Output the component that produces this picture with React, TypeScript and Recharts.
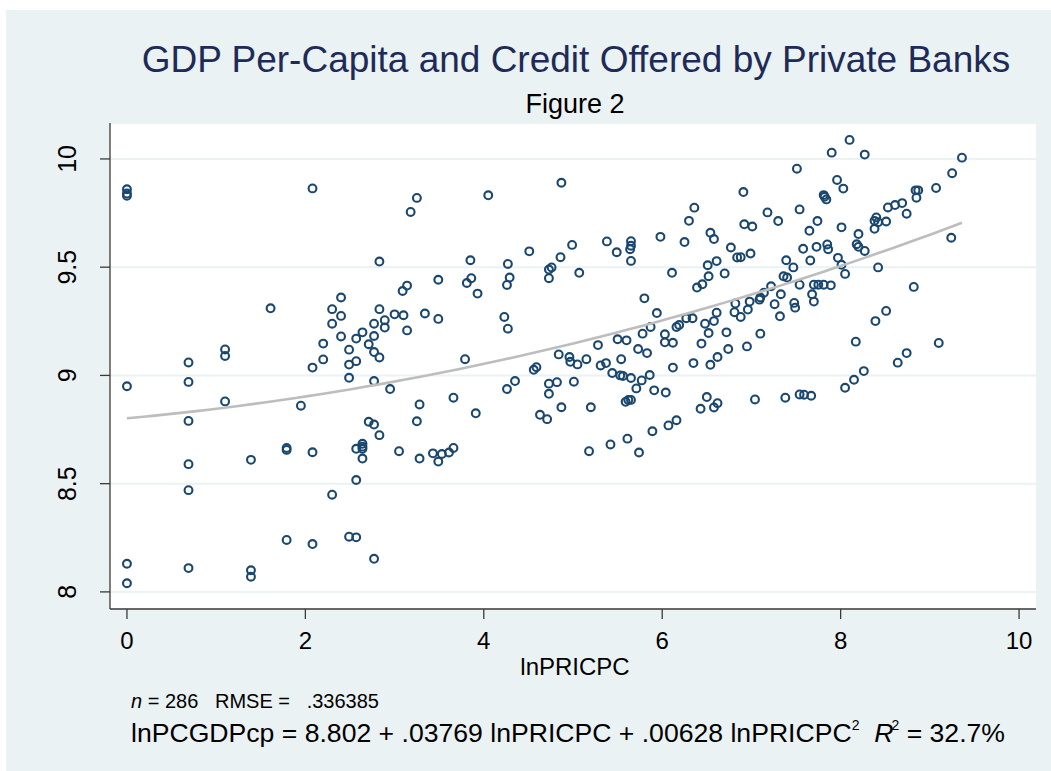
import React from "react";
import { ScatterChart, Scatter, XAxis, YAxis, CartesianGrid } from "recharts";

// ---- data (lnPRICPC, lnPCGDPcp) ----
const lowCredit: [number, number][] = [
  [0, 9.86], [0, 9.84], [0, 9.83], [0, 8.95], [0, 8.13], [0, 8.04],
  [0.69, 9.06], [0.69, 8.97], [0.69, 8.79], [0.69, 8.59], [0.69, 8.47], [0.69, 8.11],
  [1.1, 9.12], [1.1, 9.09], [1.1, 8.88],
  [1.39, 8.61], [1.39, 8.1], [1.39, 8.07],
  [1.61, 9.31],
  [1.79, 8.665], [1.79, 8.656], [1.79, 8.24],
  [1.95, 8.86],
  [2.08, 9.864], [2.08, 9.036], [2.08, 8.645], [2.08, 8.221],
  [2.2, 9.147], [2.2, 9.074],
  [2.3, 9.306], [2.3, 9.239], [2.3, 8.449],
  [2.4, 9.36], [2.4, 9.275], [2.4, 9.18],
  [2.49, 9.119], [2.49, 9.05], [2.49, 8.989], [2.49, 8.255],
  [2.57, 9.17], [2.57, 9.066], [2.57, 8.661], [2.57, 8.517], [2.57, 8.252],
  [2.64, 9.199], [2.64, 8.684], [2.64, 8.671], [2.64, 8.661], [2.64, 8.616],
  [2.71, 9.144], [2.71, 8.786],
  [2.77, 9.239], [2.77, 9.182], [2.77, 9.108], [2.77, 8.974], [2.77, 8.773], [2.77, 8.153],
  [2.83, 9.526], [2.83, 9.306], [2.83, 9.083], [2.83, 8.724],
  [2.89, 9.255], [2.89, 9.221],
  [2.95, 8.937],
];

const midCredit: [number, number][] = [
  [3.0, 9.282], [3.05, 8.65], [3.09, 9.39], [3.1, 9.278], [3.14, 9.415], [3.14, 9.208],
  [3.18, 9.755], [3.25, 9.82], [3.25, 8.788], [3.28, 8.866], [3.28, 8.616], [3.34, 9.286],
  [3.43, 8.64], [3.49, 9.442], [3.49, 9.261], [3.49, 8.602], [3.53, 8.637], [3.61, 8.644],
  [3.66, 8.897], [3.66, 8.665], [3.79, 9.075], [3.81, 9.427], [3.85, 9.532], [3.86, 9.449],
  [3.91, 8.825], [3.93, 9.378], [4.05, 9.832], [4.23, 9.27], [4.26, 9.418], [4.26, 8.937],
  [4.27, 9.515], [4.27, 9.216], [4.29, 9.452], [4.35, 8.974], [4.51, 9.573], [4.56, 9.026],
  [4.59, 9.038], [4.63, 8.818], [4.71, 8.798], [4.73, 9.489], [4.73, 9.449], [4.73, 8.962],
  [4.73, 8.915], [4.76, 9.499], [4.82, 8.969], [4.84, 9.097], [4.86, 9.546], [4.87, 9.89],
  [4.87, 8.853], [4.96, 9.085], [4.97, 9.063], [4.99, 9.603], [5.01, 8.971], [5.05, 9.051],
  [5.07, 9.474], [5.15, 9.075], [5.18, 8.65], [5.2, 8.853], [5.28, 9.14], [5.31, 9.046],
  [5.37, 9.057], [5.38, 9.619], [5.42, 8.681], [5.44, 9.011], [5.49, 9.569], [5.5, 9.167],
  [5.53, 9.0], [5.54, 9.075], [5.56, 8.997], [5.59, 8.878], [5.6, 9.162], [5.61, 8.708],
  [5.62, 8.887], [5.64, 9.583], [5.65, 9.62], [5.65, 9.599], [5.65, 9.529], [5.65, 8.988],
  [5.65, 8.887], [5.71, 8.94], [5.73, 9.122], [5.74, 8.644], [5.77, 8.977], [5.78, 9.193],
  [5.8, 9.356], [5.83, 9.103], [5.86, 9.002], [5.87, 9.224], [5.89, 8.742], [5.91, 8.931],
  [5.94, 9.288], [5.98, 9.64],
];

const highCredit: [number, number][] = [
  [6.03, 9.19], [6.03, 9.153], [6.04, 8.921], [6.07, 8.769], [6.11, 9.474], [6.12, 9.151],
  [6.12, 9.036], [6.16, 9.224], [6.16, 8.793], [6.19, 9.233], [6.25, 9.616], [6.27, 9.264],
  [6.3, 9.714], [6.34, 9.264], [6.35, 9.057], [6.36, 9.775], [6.39, 9.406], [6.43, 8.846],
  [6.44, 9.147], [6.45, 9.421], [6.48, 9.239], [6.5, 8.9], [6.51, 9.509], [6.52, 9.458],
  [6.52, 9.196], [6.54, 9.659], [6.54, 9.049], [6.58, 9.63], [6.58, 9.251], [6.58, 8.852],
  [6.61, 9.528], [6.61, 9.29], [6.62, 9.085], [6.62, 8.872], [6.7, 9.471], [6.72, 9.199],
  [6.74, 9.122], [6.77, 9.591], [6.81, 9.292], [6.82, 9.332], [6.84, 9.545], [6.88, 9.546],
  [6.88, 9.27], [6.91, 9.847], [6.92, 9.698], [6.95, 9.134], [6.96, 9.304], [6.98, 9.341],
  [6.99, 9.563], [7.01, 9.688], [7.04, 8.889], [7.09, 9.35], [7.1, 9.36], [7.1, 9.193],
  [7.14, 9.382], [7.18, 9.753], [7.22, 9.412], [7.26, 9.329], [7.3, 9.713], [7.32, 9.273],
  [7.33, 9.375], [7.36, 9.458], [7.38, 8.897], [7.39, 9.532], [7.4, 9.452], [7.47, 9.499],
  [7.48, 9.335], [7.49, 9.313], [7.51, 9.955], [7.54, 9.767], [7.54, 9.419], [7.54, 8.912],
  [7.58, 9.585], [7.59, 8.911], [7.65, 9.668], [7.66, 9.531], [7.67, 8.906], [7.68, 9.375],
  [7.7, 9.419], [7.7, 9.341], [7.73, 9.594], [7.74, 9.713], [7.75, 9.419], [7.81, 9.833],
  [7.81, 9.419], [7.82, 9.825], [7.84, 9.813], [7.85, 9.605], [7.86, 9.583], [7.89, 9.416],
  [7.9, 10.029], [7.96, 9.903], [7.97, 9.543], [8.01, 9.684], [8.01, 9.511], [8.03, 9.863],
  [8.05, 9.469], [8.05, 8.943], [8.1, 10.088], [8.15, 8.98], [8.17, 9.156], [8.18, 9.606],
  [8.2, 9.653], [8.2, 9.594], [8.26, 9.02], [8.27, 10.02], [8.27, 9.575], [8.38, 9.714],
  [8.38, 9.677], [8.39, 9.251], [8.4, 9.73], [8.42, 9.708], [8.42, 9.499], [8.51, 9.711],
  [8.51, 9.298], [8.53, 9.776], [8.61, 9.787], [8.64, 9.059], [8.69, 9.796], [8.74, 9.747],
  [8.74, 9.103], [8.82, 9.409], [8.84, 9.855], [8.85, 9.821], [8.87, 9.855], [9.07, 9.866],
  [9.1, 9.15], [9.24, 9.636], [9.25, 9.934], [9.36, 10.006],
];

// quadratic fit printed on the chart: lnPCGDPcp = 8.802 + .03769 x + .00628 x^2
const fitCoefficients = [8.802, 0.03769, 0.00628];
const fitRange = [0, 9.36];

const xTicks = [0, 2, 4, 6, 8, 10];
const yTicks = [8, 8.5, 9, 9.5, 10];
const yTickLabels = ["8", "8.5", "9", "9.5", "10"];

const titleText = "GDP Per-Capita and Credit Offered by Private Banks";
const subtitleText = "Figure 2";
const xLabel = "lnPRICPC";

// ---- derived tables ----
const scatterData = [...lowCredit, ...midCredit, ...highCredit].map(([x, y]) => ({ x, y }));
const fitData: { x: number; y: number }[] = [];
for (let i = 0; i <= 60; i++) {
  const x = fitRange[0] + ((fitRange[1] - fitRange[0]) * i) / 60;
  fitData.push({ x, y: fitCoefficients[0] + fitCoefficients[1] * x + fitCoefficients[2] * x * x });
}

const FONT = '"Liberation Sans", Arial, Helvetica, sans-serif';
const NAVY = "#1a476f";
const BG = "#eaf2f3";
const AXIS = "#3a3a3a";
const YLABEL_X = 76;

const Ring = (props: any) => (
  <circle cx={props.cx} cy={props.cy} r={3.9} fill="none" stroke={NAVY} strokeWidth={2.1} />
);
const NoShape = () => <g />;

const XTick = (props: any) => (
  <text x={props.x} y={649} textAnchor="middle" fontSize={24} fontFamily={FONT} fill="#000">
    {props.payload.value}
  </text>
);
const YTick = (props: any) => {
  const idx = yTicks.indexOf(props.payload.value);
  const label = idx >= 0 ? yTickLabels[idx] : String(props.payload.value);
  return (
    <text
      x={YLABEL_X}
      y={props.y}
      transform={`rotate(-90 ${YLABEL_X} ${props.y})`}
      textAnchor="middle"
      fontSize={25}
      fontFamily={FONT}
      fill="#000"
    >
      {label}
    </text>
  );
};

export default function App() {
  return (
    <div style={{ position: "absolute", left: 0, top: 0, width: 1051, height: 771, background: "#fff", overflow: "hidden" }}>
      <div style={{ position: "absolute", left: 6, top: 10, right: 0, bottom: 0, background: BG }} />
      <div style={{ position: "absolute", left: 0, top: 0 }}>
        <ScatterChart width={1051} height={771} margin={{ top: 123, right: 15, bottom: 122, left: 0 }}>
          <CartesianGrid vertical={false} fill="#ffffff" stroke={BG} strokeWidth={2} />
          <XAxis
            type="number"
            dataKey="x"
            domain={[-0.19, 10.19]}
            ticks={xTicks}
            allowDataOverflow
            height={40}
            tickSize={10}
            stroke={AXIS}
            tickLine={{ stroke: AXIS, strokeWidth: 1.3 }}
            axisLine={{ stroke: AXIS, strokeWidth: 1.3 }}
            tick={<XTick />}
          />
          <YAxis
            type="number"
            dataKey="y"
            domain={[7.921, 10.166]}
            ticks={yTicks}
            allowDataOverflow
            width={110}
            tickSize={10}
            stroke={AXIS}
            tickLine={{ stroke: AXIS, strokeWidth: 1.3 }}
            axisLine={{ stroke: AXIS, strokeWidth: 1.3 }}
            tick={<YTick />}
          />
          <Scatter data={scatterData} shape={<Ring />} isAnimationActive={false} />
          <Scatter
            data={fitData}
            shape={<NoShape />}
            line={{ stroke: "#bdbdbd", strokeWidth: 2.6 }}
            lineType="joint"
            isAnimationActive={false}
          />
        </ScatterChart>
      </div>
      <svg width={1051} height={771} style={{ position: "absolute", left: 0, top: 0, pointerEvents: "none" }}>
        <text x={576} y={72} textAnchor="middle" fontSize={37} fontFamily={FONT} fill="#1e2b59">
          {titleText}
        </text>
        <text x={575} y={113} textAnchor="middle" fontSize={27} fontFamily={FONT} fill="#000">
          {subtitleText}
        </text>
        <text x={575} y={675} textAnchor="middle" fontSize={24} fontFamily={FONT} fill="#000">
          {xLabel}
        </text>
        <text x={131} y={708} fontSize={20} fontFamily={FONT} fill="#000" style={{ whiteSpace: "pre" }}>
          <tspan fontStyle="italic">n</tspan>
          <tspan>{" = 286   RMSE =   .336385"}</tspan>
        </text>
        <text x={131} y={742} fontSize={26.6} fontFamily={FONT} fill="#000" style={{ whiteSpace: "pre" }}>
          <tspan>{"lnPCGDPcp = 8.802 + .03769 lnPRICPC + .00628 lnPRICPC"}</tspan>
          <tspan fontSize={14} dy={-12}>2</tspan>
          <tspan dy={12}>{"  "}</tspan>
          <tspan fontStyle="italic">R</tspan>
          <tspan fontSize={14} dy={-12} dx={-2}>2</tspan>
          <tspan dy={12}>{" = 32.7%"}</tspan>
        </text>
      </svg>
    </div>
  );
}
